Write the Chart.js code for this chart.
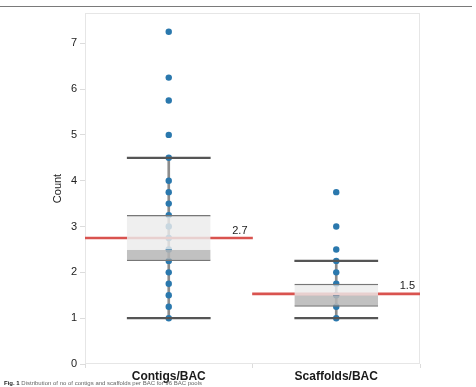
<!DOCTYPE html>
<html>
<head>
<meta charset="utf-8">
<script src="https://cdn.jsdelivr.net/npm/chart.js@4/dist/chart.umd.min.js"></script>
<style>
  html, body { margin: 0; padding: 0; background: #fff; overflow: hidden; }
  #wrap { position: relative; width: 476px; height: 387px; }
  #topRule { position: absolute; left: 0; top: 6px; width: 472px; height: 1px; background: #7a7a7a; }
  #caption { position: absolute; left: 4px; top: 380px; font: 6px "Liberation Sans", Arial, sans-serif; color: #666; white-space: nowrap; }
  #caption b { color: #222; }
</style>
</head>
<body>
<div id="wrap">
  <div id="topRule"></div>
  <canvas id="boxChart" width="476" height="387"></canvas>
  <div id="caption"><b>Fig. 1</b> Distribution of no of contigs and scaffolds per BAC for 96 BAC pools</div>
</div>
<script>
// categories
const categories = ['Contigs/BAC', 'Scaffolds/BAC'];

// raw counts (distinct values)
const contigValues = [1, 1.25, 1.5, 1.75, 2, 2.25, 2.5, 2.75, 3, 3.25, 3.5, 3.75, 4, 4.5, 5, 5.75, 6.25, 7.25];
const scaffoldValues = [1, 1.25, 1.5, 1.75, 2, 2.25, 2.5, 3, 3.75];

// box summary per category
const whiskerLow = [1, 1];
const q1 = [2.25, 1.25];
const median = [2.5, 1.5];
const q3 = [3.25, 1.75];
const whiskerHigh = [4.5, 2.25];
const means = [2.75, 1.53];
const meanLabels = ['2.7', '1.5'];

const yTicks = [0, 1, 2, 3, 4, 5, 6, 7];

const FONT = '"Liberation Sans", Arial, sans-serif';
const capHalf = 0.025;

const toPoints = (cat, vals) => vals.map(v => ({ x: cat, y: v }));

const plotBorder = {
    id: 'plotBorder',
    beforeDatasetsDraw(chart) {
        const a = chart.chartArea;
        const ctx = chart.ctx;
        ctx.save();
        ctx.strokeStyle = '#e6e6e6';
        ctx.lineWidth = 1;
        ctx.strokeRect(a.left + 0.5, a.top + 0.5, a.right - a.left - 1, a.bottom - a.top - 1);
        ctx.restore();
    }
};

const meanText = {
    id: 'meanText',
    afterDatasetsDraw(chart) {
        const idx = chart.data.datasets.findIndex(d => d.label === 'mean');
        const meta = chart.getDatasetMeta(idx);
        const ctx = chart.ctx;
        ctx.save();
        ctx.font = '11px ' + FONT;
        ctx.fillStyle = '#222';
        ctx.textAlign = 'right';
        ctx.textBaseline = 'bottom';
        meta.data.forEach((bar, i) => {
            ctx.fillText(meanLabels[i], bar.x + bar.width / 2 - 5, bar.y - 1);
        });
        ctx.restore();
    }
};

const datasets = [
    {
        type: 'bar', label: 'whisker', order: 6, grouped: false,
        data: categories.map((c, i) => [whiskerLow[i], whiskerHigh[i]]),
        backgroundColor: '#8c8c8c', barThickness: 2
    },
    {
        type: 'line', label: 'contigs', order: 5, showLine: false,
        data: toPoints(categories[0], contigValues),
        pointRadius: 3.2, pointBackgroundColor: '#2a78ad', pointBorderWidth: 0
    },
    {
        type: 'line', label: 'scaffolds', order: 5, showLine: false,
        data: toPoints(categories[1], scaffoldValues),
        pointRadius: 3.2, pointBackgroundColor: '#2a78ad', pointBorderWidth: 0
    },
    {
        type: 'bar', label: 'mean', order: 4, grouped: false,
        data: means.map(m => [m - 0.022, m + 0.022]),
        backgroundColor: '#d9534f', barPercentage: 1, categoryPercentage: 1
    },
    {
        type: 'bar', label: 'upper box', order: 3, grouped: false,
        data: categories.map((c, i) => [median[i], q3[i]]),
        backgroundColor: 'rgba(236,236,236,0.82)',
        borderColor: '#777', borderWidth: { top: 1.5, bottom: 0, left: 0, right: 0 }, borderSkipped: false,
        barPercentage: 0.5, categoryPercentage: 1
    },
    {
        type: 'bar', label: 'lower box', order: 3, grouped: false,
        data: categories.map((c, i) => [q1[i], median[i]]),
        backgroundColor: 'rgba(182,182,182,0.85)',
        borderColor: '#777', borderWidth: { top: 0, bottom: 1.5, left: 0, right: 0 }, borderSkipped: false,
        barPercentage: 0.5, categoryPercentage: 1
    },
    {
        type: 'bar', label: 'caps', order: 2, grouped: false,
        data: whiskerHigh.map(v => [v - capHalf, v + capHalf]),
        backgroundColor: '#555', barPercentage: 0.5, categoryPercentage: 1
    },
    {
        type: 'bar', label: 'caps low', order: 2, grouped: false,
        data: whiskerLow.map(v => [v - capHalf, v + capHalf]),
        backgroundColor: '#555', barPercentage: 0.5, categoryPercentage: 1
    }
];

new Chart(document.getElementById('boxChart'), {
    type: 'bar',
    data: { labels: categories, datasets: datasets },
    options: {
        responsive: false,
        animation: false,
        layout: { padding: { top: 13, right: 56, left: 0, bottom: 0 } },
        plugins: { legend: { display: false }, tooltip: { enabled: false } },
        scales: {
            x: {
                type: 'category',
                offset: true,
                grid: { drawOnChartArea: false, offset: true, tickLength: 4, color: '#dcdcdc' },
                border: { display: false },
                ticks: { padding: 1, color: '#1a1a1a', font: { family: FONT, size: 12, weight: 'bold' } },
                afterFit: s => { s.height = 23; }
            },
            y: {
                min: 0, max: 7.66,
                grid: { drawOnChartArea: false, tickLength: 5, color: '#dcdcdc' },
                border: { display: false },
                afterBuildTicks: s => { s.ticks = yTicks.map(v => ({ value: v })); },
                ticks: { padding: 3, color: '#222', font: { family: FONT, size: 11 } },
                title: { display: true, text: 'Count', color: '#222', font: { family: FONT, size: 11 }, padding: { top: 51, bottom: 0 } },
                afterFit: s => { s.width = 85; }
            }
        }
    },
    plugins: [plotBorder, meanText]
});
</script>
</body>
</html>
